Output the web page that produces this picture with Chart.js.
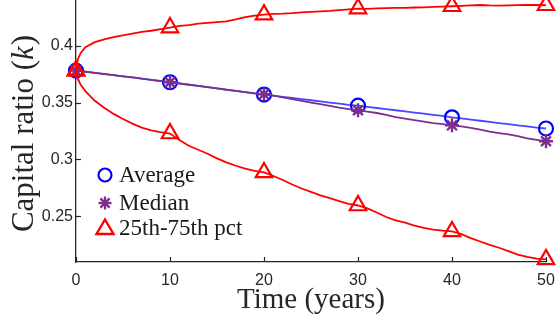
<!DOCTYPE html>
<html>
<head>
<meta charset="utf-8">
<script src="https://cdn.jsdelivr.net/npm/chart.js@4/dist/chart.umd.min.js"></script>
<style>
html,body{margin:0;padding:0;background:#fff;}
#wrap{width:557px;height:322px;position:relative;}
</style>
</head>
<body>
<div id="wrap"><canvas id="c" width="557" height="322"></canvas></div>
<script>
// ---- data ----
const years = [0,0.1,0.25,0.5,1,2,3,4,5,6,7,8,9,10,11,12,13,14,15,16,17,18,19,20,21,22,23,24,25,26,27,28,29,30,31,32,33,34,35,36,37,38,39,40,41,42,43,44,45,46,47,48,49,50];
const averageK = [0.378,0.3779,0.3778,0.3776,0.3771,0.3760,0.3751,0.3740,0.3730,0.3720,0.3710,0.3699,0.3689,0.3678,0.3668,0.3658,0.3647,0.3636,0.3625,0.3614,0.3603,0.3592,0.3581,0.3570,0.3560,0.3550,0.3540,0.3530,0.3520,0.3510,0.3500,0.3490,0.3480,0.3472,0.3462,0.3452,0.3442,0.3432,0.3422,0.3412,0.3402,0.3392,0.3382,0.3370,0.3360,0.3350,0.3340,0.3330,0.3320,0.3310,0.3300,0.3290,0.3280,0.3272];
const medianK = [0.378,0.3779,0.3778,0.3775,0.3770,0.3760,0.3750,0.3741,0.3730,0.3720,0.3709,0.3699,0.3688,0.3678,0.3667,0.3656,0.3646,0.3635,0.3624,0.3612,0.3603,0.3592,0.3581,0.3572,0.3560,0.3545,0.3530,0.3515,0.3500,0.3485,0.3470,0.3455,0.3442,0.3432,0.3420,0.3408,0.3392,0.3372,0.3358,0.3345,0.3332,0.3320,0.3310,0.3300,0.3290,0.3278,0.3262,0.3245,0.3232,0.3220,0.3205,0.3185,0.3172,0.3160];
const pct25K = [0.378,0.3745,0.3700,0.3655,0.3600,0.3515,0.3455,0.3400,0.3355,0.3315,0.3280,0.3255,0.3240,0.3228,0.3170,0.3120,0.3085,0.3050,0.3010,0.2975,0.2945,0.2920,0.2900,0.2886,0.2855,0.2820,0.2780,0.2745,0.2715,0.2685,0.2660,0.2635,0.2610,0.2596,0.2570,0.2535,0.2495,0.2465,0.2445,0.2420,0.2400,0.2385,0.2375,0.2368,0.2345,0.2310,0.2280,0.2250,0.2225,0.2195,0.2165,0.2145,0.2130,0.2123];
const pct75K = [0.378,0.3845,0.3890,0.3935,0.3985,0.4030,0.4055,0.4075,0.4090,0.4105,0.4120,0.4130,0.4145,0.4158,0.4172,0.4180,0.4192,0.4200,0.4206,0.4212,0.4230,0.4250,0.4262,0.4272,0.4278,0.4280,0.4284,0.4292,0.4296,0.4300,0.4305,0.4312,0.4318,0.4325,0.4322,0.4326,0.4328,0.4331,0.4330,0.4334,0.4336,0.4340,0.4342,0.4345,0.4349,0.4352,0.4356,0.4352,0.4350,0.4353,0.4355,0.4358,0.4356,0.4354];
const markerYears = [0,10,20,30,40,50];
const xTicks = [0,10,20,30,40,50];
const yTicks = [0.25,0.3,0.35,0.4];
const yTickLabels = ['0.25','0.3','0.35','0.4'];
const legendLabels = ['Average','Median','25th-75th pct'];

const BLUE='#0000ff', BLUE_LINE='rgba(40,40,255,0.85)', PURPLE='#7e2f8e', RED='#ff0000', AXIS='#262626';

function pts(arr){ return years.map((t,i)=>({x:t,y:arr[i]})); }
function mr(r){ return ctx => markerYears.includes(years[ctx.dataIndex]) ? r : 0; }

const decor = {
  id:'decor',
  beforeDatasetsDraw(chart){
    const {ctx, chartArea:a, scales:{x,y}} = chart;
    ctx.save();
    ctx.strokeStyle=AXIS; ctx.lineWidth=1.2;
    xTicks.forEach(v=>{const px=Math.round(x.getPixelForValue(v))+0.5; ctx.beginPath(); ctx.moveTo(px,a.bottom); ctx.lineTo(px,a.bottom-5); ctx.stroke();});
    yTicks.forEach(v=>{const py=Math.round(y.getPixelForValue(v))+0.5; ctx.beginPath(); ctx.moveTo(a.left,py); ctx.lineTo(a.left+5,py); ctx.stroke();});
    ctx.restore();
  },
  afterDraw(chart){
    const {ctx, chartArea:a} = chart;
    ctx.save();
    ctx.fillStyle=AXIS;
    ctx.font='29px "Liberation Serif"';
    ctx.textAlign='center'; ctx.textBaseline='alphabetic';
    ctx.fillText('Time (years)', (a.left+a.right)/2, 308);
    const f1='31px "Liberation Serif"', f2='italic 31px "Liberation Serif"';
    const s1='Capital ratio (', s2='k', s3=')';
    ctx.font=f1; const w1=ctx.measureText(s1).width, w3=ctx.measureText(s3).width;
    ctx.font=f2; const w2=ctx.measureText(s2).width;
    const tot=w1+w2+w3;
    ctx.translate(33,134); ctx.rotate(-Math.PI/2);
    ctx.textAlign='left';
    let sx=-tot/2;
    ctx.font=f1; ctx.fillText(s1,sx,0); sx+=w1;
    ctx.font=f2; ctx.fillText(s2,sx,0); sx+=w2+1;
    ctx.font=f1; ctx.fillText(s3,sx,0);
    ctx.restore();
    ctx.save();
    const lx=105, rows=[175,203,228];
    ctx.lineWidth=2.2;
    ctx.strokeStyle=BLUE; ctx.beginPath(); ctx.arc(lx,rows[0],6.5,0,Math.PI*2); ctx.stroke();
    ctx.strokeStyle=PURPLE; ctx.lineWidth=2.4;
    for(let k=0;k<4;k++){const ang=k*Math.PI/4; const dx=Math.cos(ang)*6.5, dy=Math.sin(ang)*6.5; ctx.beginPath(); ctx.moveTo(lx-dx,rows[1]-dy); ctx.lineTo(lx+dx,rows[1]+dy); ctx.stroke();}
    ctx.strokeStyle=RED; ctx.lineWidth=2.4;
    ctx.beginPath(); ctx.moveTo(lx,rows[2]-8.5); ctx.lineTo(lx+8.5,rows[2]+6); ctx.lineTo(lx-8.5,rows[2]+6); ctx.closePath(); ctx.stroke();
    ctx.fillStyle='#1a1a1a'; ctx.font='23px "Liberation Serif"'; ctx.textAlign='left'; ctx.textBaseline='alphabetic';
    legendLabels.forEach((t,i)=>ctx.fillText(t,119,rows[i]+7));
    ctx.restore();
  }
};

new Chart(document.getElementById('c'),{
  type:'line',
  data:{datasets:[
    {label:'75th pct',data:pts(pct75K),borderColor:RED,borderWidth:1.8,pointStyle:'triangle',pointRadius:mr(9.5),pointBorderWidth:2.2,pointBorderColor:RED,pointBackgroundColor:'rgba(0,0,0,0)',clip:false},
    {label:'25th pct',data:pts(pct25K),borderColor:RED,borderWidth:1.8,pointStyle:'triangle',pointRadius:mr(9.5),pointBorderWidth:2.2,pointBorderColor:RED,pointBackgroundColor:'rgba(0,0,0,0)',clip:false},
    {label:'Median',data:pts(medianK),borderColor:PURPLE,borderWidth:1.8,pointStyle:'star',pointRadius:mr(7),pointBorderWidth:2.4,pointBorderColor:PURPLE,pointBackgroundColor:PURPLE,clip:false},
    {label:'Average',data:pts(averageK),borderColor:BLUE_LINE,borderWidth:1.8,pointStyle:'circle',pointRadius:mr(7),pointBorderWidth:2.2,pointBorderColor:BLUE,pointBackgroundColor:'rgba(0,0,0,0)',clip:false}
  ]},
  options:{
    responsive:false, animation:false, events:[],
    layout:{autoPadding:false,padding:{left:0,right:11,top:0,bottom:0}},
    elements:{line:{tension:0}},
    plugins:{legend:{display:false},tooltip:{enabled:false}},
    scales:{
      x:{type:'linear',min:0,max:50,
        afterBuildTicks:s=>{s.ticks=xTicks.map(v=>({value:v}));},
        afterFit:s=>{s.height=60;s.paddingLeft=0;s.paddingRight=0;},
        grid:{display:false,drawTicks:false},
        border:{display:true,color:AXIS,width:1.3},
        ticks:{padding:9,color:AXIS,font:{family:'Liberation Sans',size:16},maxRotation:0,callback:v=>String(v)}},
      y:{type:'linear',min:0.21,max:0.44,
        afterBuildTicks:s=>{s.ticks=yTicks.map(v=>({value:v}));},
        afterFit:s=>{s.width=76;s.paddingTop=0;s.paddingBottom=0;},
        grid:{display:false,drawTicks:false},
        border:{display:true,color:AXIS,width:1.3},
        ticks:{padding:3,color:AXIS,font:{family:'Liberation Sans',size:16},callback:(v)=>{const i=yTicks.findIndex(t=>Math.abs(t-v)<1e-9);return i>=0?yTickLabels[i]:'';}}}
    }
  },
  plugins:[decor]
});
</script>
</body>
</html>
